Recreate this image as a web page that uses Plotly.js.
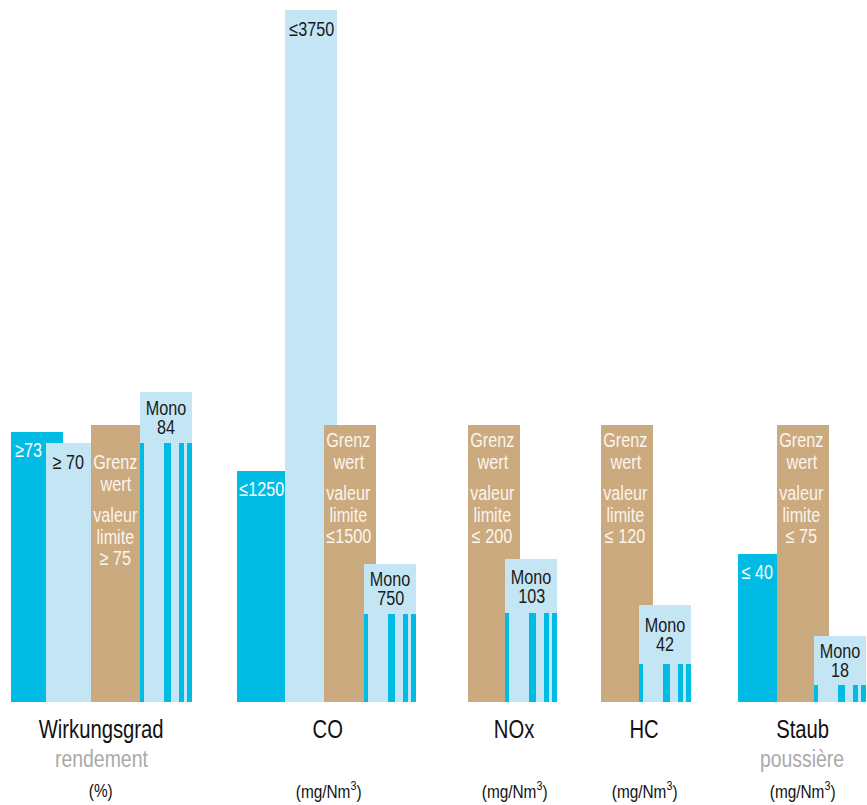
<!DOCTYPE html>
<html><head><meta charset="utf-8">
<script src="https://cdn.plot.ly/plotly-3.0.1.min.js"></script>
<style>html,body{margin:0;padding:0;background:#fff}#chart{width:867px;height:805px}</style>
</head><body><div id="chart"></div>
<script>
// ---------------- data ----------------
const categories   = ['Wirkungsgrad', 'CO', 'NOx', 'HC', 'Staub'];
const categorySub  = ['rendement', '', '', '', 'poussière'];
const units        = ['(%)', '(mg/Nm<sup>3</sup>)', '(mg/Nm<sup>3</sup>)', '(mg/Nm<sup>3</sup>)', '(mg/Nm<sup>3</sup>)'];

const limitValues  = [75, 1500, 200, 120, 75];          // Grenzwert / valeur limite
const limitLabels  = ['≥ 75', '≤1500', '≤ 200', '≤ 120', '≤ 75'];
const limitTitle   = ['Grenz', 'wert', 'valeur', 'limite'];

const cyanValues   = [73, 1250, null, null, 40];
const cyanLabels   = ['≥73', '≤1250', '', '', '≤ 40'];

const lightValues  = [70, 3750, null, null, null];
const lightLabels  = ['≥ 70', '≤3750', '', '', ''];

const monoValues   = [84, 750, 103, 42, 18];
const monoName     = 'Mono';

// ---------------- layout constants (positions / styles) ----------------
const W = 867, H = 805, PLOT_H = 702;
const Y_MAX = 253.43;                 // % of limit at top of plot
const PX = Y_MAX / PLOT_H;            // data units per pixel
const BAR_W = 52;
const leftEdge = {
  cyan:  [11, 237, null, null, 738],
  light: [46, 285, null, null, null],
  limit: [91, 324, 468, 601, 777],
  mono:  [140, 364, 505, 639, 814]
};
const labelX = [101, 328, 514, 644, 802];
const stripes = [[0, 4], [24, 31], [39, 43.5], [47, 52]];
const stripeGap = [51, 50, 54, 59, 49];
const limitTextShift = [22, 0, 0, 0, 0];
const NARROW = 0.81;                  // horizontal condensing of all texts

const C_CYAN = '#00bbe3', C_LIGHT = '#c4e6f4', C_TAN = '#cbaa80';
const FONT = "'Liberation Sans', Arial, sans-serif";

const pct = (v, i) => v == null ? null : v / limitValues[i] * 100;

function barTrace(edges, values, color) {
  const x = [], y = [];
  values.forEach((v, i) => {
    if (v == null || edges[i] == null) return;
    x.push(edges[i] + BAR_W / 2);
    y.push(pct(v, i));
  });
  return {type: 'bar', x, y, width: BAR_W, marker: {color, line: {width: 0}},
          hoverinfo: 'skip', showlegend: false};
}

const traces = [
  barTrace(leftEdge.cyan, cyanValues, C_CYAN),
  barTrace(leftEdge.light, lightValues, C_LIGHT),
  barTrace(leftEdge.limit, limitValues, C_TAN),
  barTrace(leftEdge.mono, monoValues, C_LIGHT)
];
stripes.forEach(([a, b]) => {
  const x = [], y = [];
  monoValues.forEach((v, i) => {
    x.push(leftEdge.mono[i] + (a + b) / 2);
    y.push(pct(v, i) - stripeGap[i] * PX);
  });
  traces.push({type: 'bar', x, y, width: b - a, marker: {color: C_CYAN, line: {width: 0}},
               hoverinfo: 'skip', showlegend: false});
});

const ann = [];
function txt(x, y, yshift, text, color, size) {
  ann.push({x, y, xref: 'x', yref: 'y', yshift, text, showarrow: false,
    xanchor: 'center', yanchor: 'middle',
    font: {family: FONT, size, color}});
}

// cyan labels
cyanValues.forEach((v, i) => {
  if (v == null) return;
  const l = leftEdge.cyan[i];
  const nexts = [leftEdge.light[i], leftEdge.limit[i]].filter(e => e != null);
  const r = Math.min(l + BAR_W, ...nexts);
  txt((l + r) / 2, pct(v, i), -17.5, cyanLabels[i], '#ffffff', 20);
});
// light labels
lightValues.forEach((v, i) => {
  if (v == null) return;
  const l = leftEdge.light[i];
  const high = pct(v, i) > 150;
  const r = high ? l + BAR_W : leftEdge.limit[i];
  txt((l + r) / 2, pct(v, i), -19, lightLabels[i], '#1a1a1a', 20);
});
// limit labels
const limitOffsets = [15, 36.5, 68, 89.5, 111];
limitValues.forEach((v, i) => {
  const cx = leftEdge.limit[i] + BAR_W / 2 - 2;
  const lines = limitTitle.concat([limitLabels[i]]);
  lines.forEach((t, k) => {
    txt(cx, 100, -(limitOffsets[k] + limitTextShift[i]), t, '#fbf5ec', 20);
  });
});
// mono labels
monoValues.forEach((v, i) => {
  const cx = leftEdge.mono[i] + BAR_W / 2;
  const topY = pct(v, i);
  const midShift = -stripeGap[i] / 2;
  txt(cx, topY, midShift + 9.5, monoName, '#1a1a1a', 20);
  txt(cx, topY, midShift - 9.5, String(v), '#1a1a1a', 20);
});
// category labels
categories.forEach((c, i) => {
  const base = {xref: 'x', yref: 'paper', y: 0, showarrow: false, xanchor: 'center', yanchor: 'middle'};
  ann.push(Object.assign({}, base, {x: labelX[i], yshift: -(729 - PLOT_H), text: c,
    font: {family: FONT, size: 25, color: '#111111'}}));
  if (categorySub[i]) ann.push(Object.assign({}, base, {x: labelX[i], yshift: -(758 - PLOT_H), text: categorySub[i],
    font: {family: FONT, size: 24, color: '#aaaaaa'}}));
  ann.push(Object.assign({}, base, {x: labelX[i], yshift: -(790 - PLOT_H), text: units[i],
    font: {family: FONT, size: 19, color: '#111111'}}));
});

const layout = {
  width: W, height: H,
  margin: {l: 0, r: 0, t: 0, b: H - PLOT_H, pad: 0},
  paper_bgcolor: '#ffffff', plot_bgcolor: '#ffffff',
  barmode: 'overlay', bargap: 0,
  showlegend: false,
  xaxis: {range: [0, W], visible: false, fixedrange: true},
  yaxis: {range: [0, Y_MAX], visible: false, fixedrange: true},
  annotations: ann
};
Plotly.newPlot('chart', traces, layout, {displayModeBar: false, staticPlot: true}).then(() => {
  // condense texts horizontally around their own centre (narrow typeface look)
  document.querySelectorAll('#chart text.annotation-text').forEach(t => {
    const b = t.getBBox();
    const cx = b.x + b.width / 2;
    t.setAttribute('transform', `translate(${cx * (1 - NARROW)},0) scale(${NARROW},1)`);
  });
});
</script>
</body></html>
